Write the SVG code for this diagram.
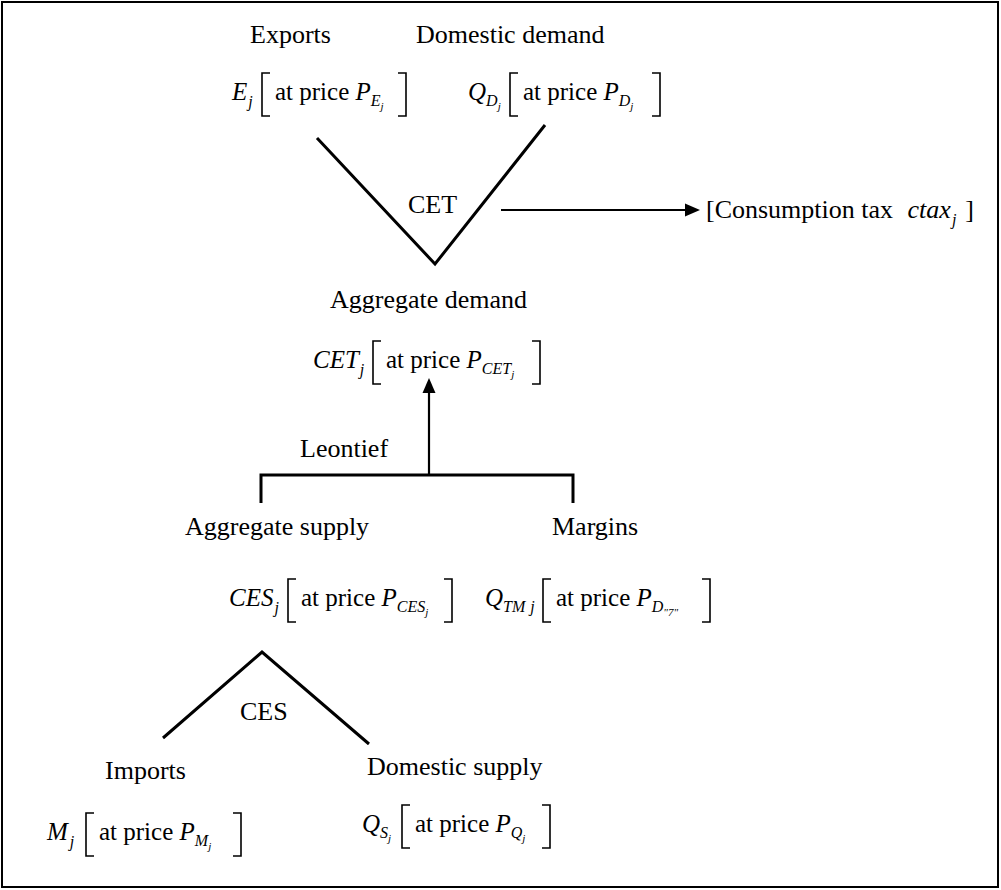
<svg xmlns="http://www.w3.org/2000/svg" width="1001" height="890" viewBox="0 0 1001 890">
<style>
.t{font-family:"Liberation Serif","Times New Roman",serif;font-size:26px;fill:#000}
.f{font-family:"Liberation Serif","Times New Roman",serif;font-size:25px;fill:#000}
.i{font-style:italic}
.s{font-size:16px;font-style:italic}
.ss{font-size:11px;font-style:italic}
.br{fill:none;stroke:#000;stroke-width:1.6}
.ln{fill:none;stroke:#000;stroke-width:3;stroke-linejoin:miter}
.ar{stroke:#000;stroke-width:2.2}
</style>
<rect x="2" y="2" width="996" height="885" fill="#fff" stroke="#000" stroke-width="2"/>

<g id="exports">
<text class="t" x="250" y="43">Exports</text>
<text class="f i" x="232" y="100">E<tspan class="s" dx="1" dy="7">j</tspan></text>
<path class="br" d="M270,73 H262 V116 H270"/>
<text class="f" x="275" y="100">at price <tspan class="i">P</tspan><tspan class="s" dy="6">E</tspan><tspan class="ss" dy="4">j</tspan></text>
<path class="br" d="M398,73 H406 V116 H398"/>
</g>

<g id="domestic-demand">
<text class="t" x="416" y="43">Domestic demand</text>
<text class="f i" x="468" y="100">Q<tspan class="s" dy="6">D</tspan><tspan class="ss" dy="4">j</tspan></text>
<path class="br" d="M518,73 H510 V116 H518"/>
<text class="f" x="523" y="100">at price <tspan class="i">P</tspan><tspan class="s" dy="6">D</tspan><tspan class="ss" dy="4">j</tspan></text>
<path class="br" d="M652,73 H660 V116 H652"/>
</g>

<g id="cet-label">
<text class="t" x="408" y="213">CET</text>
</g>

<g id="consumption-tax">
<text class="t" x="706" y="218">[Consumption tax <tspan class="i" dx="8">ctax</tspan><tspan class="s" dx="1" dy="7">j</tspan><tspan dy="-7" dx="9">]</tspan></text>
</g>

<g id="aggregate-demand">
<text class="t" x="330" y="308">Aggregate demand</text>
<text class="f i" x="313" y="368">CET<tspan class="s" dx="1" dy="7">j</tspan></text>
<path class="br" d="M381,341 H373 V384 H381"/>
<text class="f" x="386" y="368">at price <tspan class="i">P</tspan><tspan class="s" dy="6">CET</tspan><tspan class="ss" dy="4">j</tspan></text>
<path class="br" d="M532,341 H540 V384 H532"/>
</g>

<g id="leontief-label">
<text class="t" x="300" y="457">Leontief</text>
</g>

<g id="aggregate-supply">
<text class="t" x="185" y="535">Aggregate supply</text>
<text class="f i" x="229" y="606">CES<tspan class="s" dx="1" dy="7">j</tspan></text>
<path class="br" d="M296,579 H288 V622 H296"/>
<text class="f" x="301" y="606">at price <tspan class="i">P</tspan><tspan class="s" dy="6">CES</tspan><tspan class="ss" dy="4">j</tspan></text>
<path class="br" d="M444,579 H452 V622 H444"/>
</g>

<g id="margins">
<text class="t" x="552" y="535">Margins</text>
<text class="f i" x="485" y="606">Q<tspan class="s" dy="6">TM</tspan><tspan class="s" dx="5">j</tspan></text>
<path class="br" d="M551,579 H543 V622 H551"/>
<text class="f" x="556" y="606">at price <tspan class="i">P</tspan><tspan class="s" dy="6">D</tspan><tspan class="ss" dy="4">"7"</tspan></text>
<path class="br" d="M702,579 H710 V622 H702"/>
</g>

<g id="ces-label">
<text class="t" x="240" y="720">CES</text>
</g>

<g id="imports">
<text class="t" x="105" y="779">Imports</text>
<text class="f i" x="47" y="840">M<tspan class="s" dx="2" dy="7">j</tspan></text>
<path class="br" d="M94,813 H86 V856 H94"/>
<text class="f" x="99" y="840">at price <tspan class="i">P</tspan><tspan class="s" dy="6">M</tspan><tspan class="ss" dy="4">j</tspan></text>
<path class="br" d="M233,813 H241 V856 H233"/>
</g>

<g id="domestic-supply">
<text class="t" x="367" y="775">Domestic supply</text>
<text class="f i" x="362" y="832">Q<tspan class="s" dy="6">S</tspan><tspan class="ss" dy="4">j</tspan></text>
<path class="br" d="M410,805 H402 V848 H410"/>
<text class="f" x="415" y="832">at price <tspan class="i">P</tspan><tspan class="s" dy="6">Q</tspan><tspan class="ss" dy="4">j</tspan></text>
<path class="br" d="M542,805 H550 V848 H542"/>
</g>

<g id="connectors">
<polyline class="ln" points="317,138 435,264 545,125"/>
<line class="ar" x1="501" y1="210" x2="686" y2="210"/>
<polygon points="700,210 685,203.5 685,216.5" fill="#000"/>
<line class="ar" x1="429" y1="475" x2="429" y2="392"/>
<polygon points="429,378 422.5,393 435.5,393" fill="#000"/>
<polyline class="ln" points="261,503 261,475 573,475 573,503"/>
<polyline class="ln" points="163,738 262,652 369,744"/>
</g>
</svg>
